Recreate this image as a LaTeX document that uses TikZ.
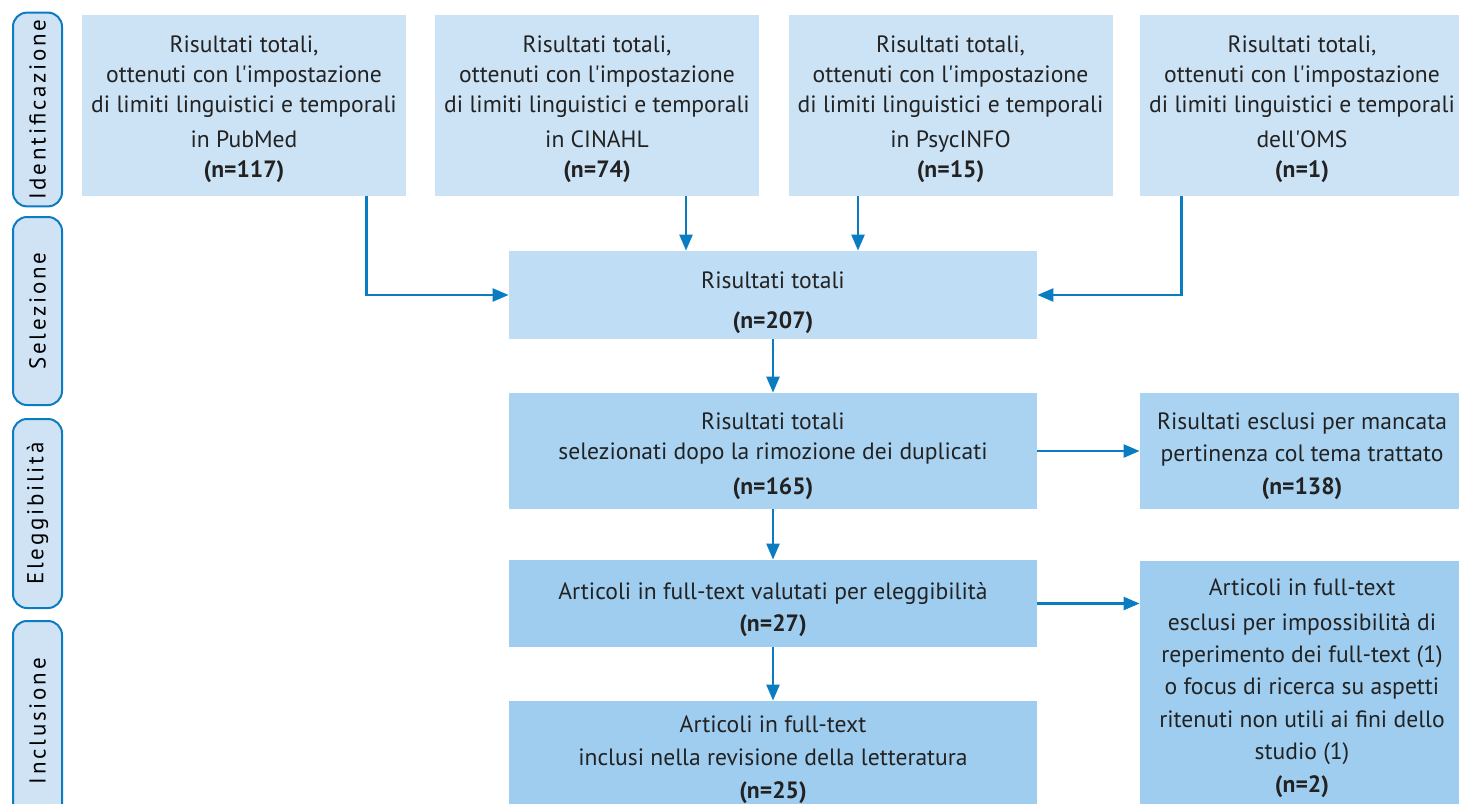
\documentclass[tikz,border=0pt]{standalone}
\usepackage{fontspec}
\setmainfont{PT Sans}
\newfontfamily\sidefont[LetterSpace=12]{PT Sans}
\usepackage{tikz}
\usetikzlibrary{
  arrows.meta,
  calc,
  positioning,
}
\definecolor{prismablue}{HTML}{0A7CC1}
\definecolor{boxtop}{HTML}{CCE3F6}
\definecolor{boxsel}{HTML}{BFDDF5}
\definecolor{boxmid}{HTML}{AAD3F2}
\definecolor{boxlow}{HTML}{9FCDEF}
\definecolor{sidefill}{HTML}{D0E3F5}
\definecolor{textgrey}{HTML}{222222}
\newcommand{\apo}{\textquotesingle}
\newcommand{\lift}[1]{\rule{0pt}{#1}}
\tikzstyle{arrow} = [
  -{Triangle[length=8pt,width=6.5pt]},
  line width=1.2pt,
  prismablue,
]
\tikzstyle{stepbox} = [
  rectangle,
  align=center,
  inner sep=2pt,
  font=\fontsize{11.8}{15}\selectfont,
  text=textgrey,
]
\tikzstyle{phase} = [
  rectangle,
  rounded corners=7pt,
  draw=prismablue,
  line width=1pt,
  fill=sidefill,
  minimum width=24.5pt,
  text=black,
  font=\sidefont\fontsize{11.5}{13}\selectfont,
]

\begin{document}
\begin{tikzpicture}

        \useasboundingbox (0,0) rectangle (729.5pt,-401.5pt);
        \clip (0,0) rectangle (729.5pt,-401.5pt);

        % phases on the left
        \node [phase, minimum height=94.5pt] (idf) at (18.75pt,-54.75pt)
              {\rotatebox{90}{Identificazione}};
        \node [phase, minimum height=94pt] (sel) at (18.75pt,-155.5pt)
              {\rotatebox{90}{Selezione}};
        \node [phase, minimum height=94.5pt] (ele) at (18.75pt,-256.75pt)
              {\rotatebox{90}{Eleggibilità}};
        \node [phase, minimum height=100pt] (inc) at (18.75pt,-360.5pt)
              {\rotatebox{90}{Inclusione}};

        % sources
        \node [stepbox, fill=boxtop, minimum width=162pt, minimum height=90.5pt]
              (pubmed) at (122pt,-52.75pt)
              {\lift{12.5pt}Risultati totali,\\ottenuti con l\apo impostazione\\di limiti linguistici e temporali\\[2.5pt]in PubMed\\\textbf{(n=117)}};
        \node [stepbox, fill=boxtop, minimum width=162pt, minimum height=90.5pt]
              (cinahl) at (298.5pt,-52.75pt)
              {\lift{12.5pt}Risultati totali,\\ottenuti con l\apo impostazione\\di limiti linguistici e temporali\\[2.5pt]in CINAHL\\\textbf{(n=74)}};
        \node [stepbox, fill=boxtop, minimum width=162pt, minimum height=90.5pt]
              (psyc) at (475.25pt,-52.75pt)
              {\lift{12.5pt}Risultati totali,\\ottenuti con l\apo impostazione\\di limiti linguistici e temporali\\[2.5pt]in PsycINFO\\\textbf{(n=15)}};
        \node [stepbox, fill=boxtop, minimum width=162pt, minimum height=90.5pt]
              (oms) at (651pt,-52.75pt)
              {\lift{12.5pt}Risultati totali,\\ottenuti con l\apo impostazione\\di limiti linguistici e temporali\\[2.5pt]dell\apo OMS\\\textbf{(n=1)}};

        % main column
        \node [stepbox, fill=boxsel, minimum width=264pt, minimum height=44pt]
              (tot) at (386.5pt,-147.5pt)
              {\lift{16.5pt}Risultati totali\\[5pt]\textbf{(n=207)}};
        \node [stepbox, fill=boxmid, minimum width=264pt, minimum height=58pt]
              (dup) at (386.5pt,-225.5pt)
              {\lift{13.5pt}Risultati totali\\selezionati dopo la rimozione dei duplicati\\[2.5pt]\textbf{(n=165)}};
        \node [stepbox, fill=boxlow, minimum width=264pt, minimum height=43.5pt]
              (full) at (386.5pt,-301.75pt)
              {\lift{14.5pt}Articoli in full-text valutati per eleggibilità\\[1pt]\textbf{(n=27)}};
        \node [stepbox, fill=boxlow, minimum width=264pt, minimum height=57pt,
               font=\fontsize{11.8}{16.5}\selectfont]
              (incl) at (386.5pt,-379pt)
              {\lift{10pt}Articoli in full-text\\inclusi nella revisione della letteratura\\\textbf{(n=25)}};

        % excluded
        \node [stepbox, fill=boxmid, minimum width=162pt, minimum height=58pt,
               font=\fontsize{11.8}{16.2}\selectfont]
              (excl) at (651pt,-225.5pt)
              {\lift{13.5pt}Risultati esclusi per mancata\\pertinenza col tema trattato\\\textbf{(n=138)}};
        \node [stepbox, fill=boxlow, minimum width=162pt, minimum height=127pt,
               font=\fontsize{11.8}{16.2}\selectfont]
              (exft) at (651pt,-344pt)
              {Articoli in full-text\\[1pt]esclusi per impossibilità di\\reperimento dei full-text (1)\\o focus di ricerca su aspetti\\ritenuti non utili ai fini dello\\studio (1)\\\textbf{(n=2)}};

        % connectors
        \coordinate (inL) at ($(tot.north)+(-43.5pt,0)$);
        \coordinate (inR) at ($(tot.north)+(42.5pt,0)$);

        \draw [arrow] ($(pubmed.south east)+(-20pt,0)$) |- (tot.west);
        \draw [arrow] ($(oms.south west)+(21pt,0)$) |- (tot.east);
        \draw [arrow] (cinahl.south -| inL) -- (inL);
        \draw [arrow] (psyc.south -| inR) -- (inR);
        \draw [arrow] (tot) -- (dup);
        \draw [arrow] (dup) -- (full);
        \draw [arrow] (full) -- (incl);
        \draw [arrow] (dup.east) -- (dup.east -| excl.west);
        \draw [arrow] (full.east) -- (full.east -| exft.west);
      \end{tikzpicture}
\end{document}
